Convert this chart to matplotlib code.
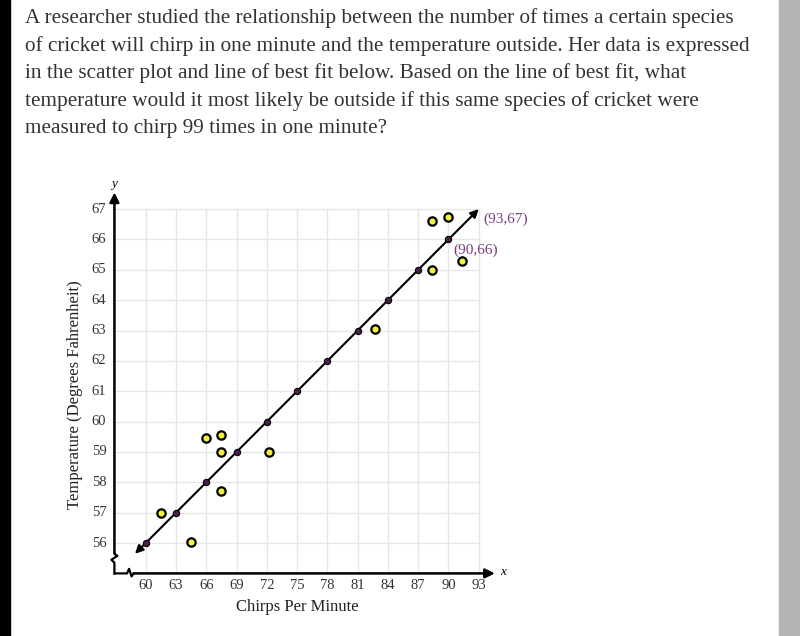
import numpy as np
import matplotlib.pyplot as plt
from matplotlib.patches import Rectangle

# question text
question = [
    "A researcher studied the relationship between the number of times a certain species",
    "of cricket will chirp in one minute and the temperature outside. Her data is expressed",
    "in the scatter plot and line of best fit below. Based on the line of best fit, what",
    "temperature would it most likely be outside if this same species of cricket were",
    "measured to chirp 99 times in one minute?",
]

# scatter data (chirps per minute, temperature)
chirps = [61.5, 64.5, 66.0, 67.5, 67.5, 67.5, 72.2, 82.7, 88.4, 91.3, 88.4, 90.0]
temps = [57.0, 56.05, 59.45, 59.55, 59.0, 57.7, 59.0, 63.05, 65.0, 65.3, 66.6, 66.75]

# line of best fit through (90,66) and (93,67)
slope = 1 / 3
intercept = 36
fit_x = [60, 63, 66, 69, 72, 75, 78, 81, 84, 87, 90]
fit_start, fit_end = 58.94, 93

xticks = [60, 63, 66, 69, 72, 75, 78, 81, 84, 87, 90, 93]
yticks = [56, 57, 58, 59, 60, 61, 62, 63, 64, 65, 66, 67]

plt.rcParams['font.family'] = ['Liberation Serif', 'DejaVu Serif']

fig = plt.figure(figsize=(8, 6.36), dpi=100)
fig.patch.set_facecolor('white')
# page decorations
fig.patches.append(Rectangle((0, 0), 10 / 800, 1, transform=fig.transFigure, color='black', zorder=0))
fig.patches.append(Rectangle((779 / 800, 0), 21 / 800, 1, transform=fig.transFigure, color='#b4b4b4', zorder=0))

for i, line in enumerate(question):
    fig.text(25 / 800, 1 - (18 + i * 27.6) / 636, line, fontsize=15.3, color='#333333', va='center', ha='left')

ax = fig.add_axes([0.138, 0.0841, 0.4919, 0.6348])
ax.set_xlim(56.5, 95.5)
ax.set_ylim(54.7, 68)
for s in ax.spines.values():
    s.set_visible(False)
ax.set_xticks([])
ax.set_yticks([])

x0, y0 = 56.9, 55.0
# grid
for xv in xticks:
    ax.plot([xv, xv], [y0, 67], color='#e6e6e6', lw=1, zorder=1)
for yv in yticks:
    ax.plot([x0, 93], [yv, yv], color='#e6e6e6', lw=1, zorder=1)

# axes with arrows and break marks
ax.annotate('', xy=(x0, 67.55), xytext=(x0, 55.68),
            arrowprops=dict(arrowstyle='-|>', color='black', lw=1.8, mutation_scale=14, shrinkA=0, shrinkB=0))
ax.annotate('', xy=(94.6, y0), xytext=(58.8, y0),
            arrowprops=dict(arrowstyle='-|>', color='black', lw=1.8, mutation_scale=14, shrinkA=0, shrinkB=0))
ax.plot([x0, x0, x0 - 0.3, x0 + 0.3, x0, x0], [y0, 55.35, 55.45, 55.58, 55.64, 55.68],
        color='black', lw=1.6, zorder=3)
ax.plot([x0, 58.15, 58.35, 58.6, 58.8], [y0, y0, y0 + 0.15, y0 - 0.1, y0], color='black', lw=1.6, zorder=3)
ax.text(x0, 67.83, 'y', fontsize=9.5, style='italic', ha='center', va='center')
ax.text(95.4, y0 + 0.03, 'x', fontsize=9.5, style='italic', ha='center', va='center')

for xv in xticks:
    ax.text(xv, 54.6, str(xv), fontsize=10.5, color='#333333', ha='center', va='center')
for yv in yticks:
    ax.text(56.1, yv, str(yv), fontsize=10.5, color='#333333', ha='right', va='center')

# line of best fit
ax.annotate('', xy=(fit_end, slope * fit_end + intercept),
            xytext=(fit_start, slope * fit_start + intercept),
            arrowprops=dict(arrowstyle='<|-|>', color='black', lw=1.5, mutation_scale=12, shrinkA=0, shrinkB=0), zorder=4)
fx = np.array(fit_x)
ax.plot(fx, slope * fx + intercept, 'o', ms=4.5, mfc='#4a1f4a', mec='black', mew=0.8, zorder=5)

ax.plot(chirps, temps, 'o', ms=6, mfc='#f2f23a', mec='black', mew=1.6, zorder=6)

ax.text(93.5, 66.67, '(93,67)', fontsize=11, color='#7d3d80', ha='left', va='center')
ax.text(90.45, 65.65, '(90,66)', fontsize=11, color='#7d3d80', ha='left', va='center')

fig.text(75 / 800, 1 - 395 / 636, 'Temperature (Degrees Fahrenheit)', rotation=90, fontsize=12,
         color='#222222', ha='center', va='center')
fig.text(297 / 800, 1 - 607 / 636, 'Chirps Per Minute', fontsize=12, color='#222222', ha='center', va='center')

fig.savefig('out.png', dpi=100)
